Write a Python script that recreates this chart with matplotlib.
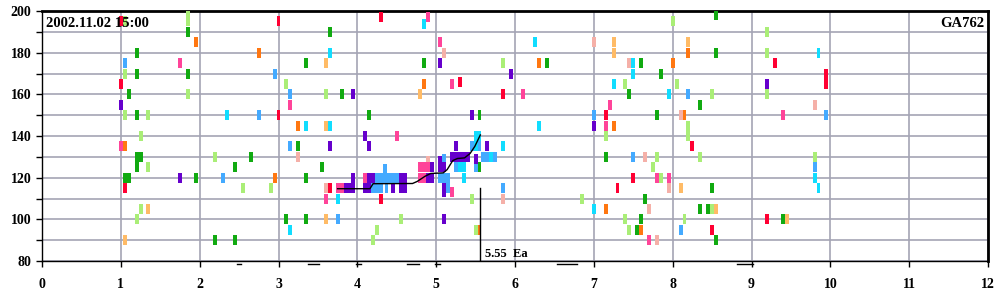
import matplotlib
matplotlib.use('Agg')
import matplotlib.pyplot as plt
import numpy as np

# bars per colour: x position (hours) and level
red_x = [1.0, 3.0, 4.3, 1.0, 3.0, 1.05, 3.65, 4.3, 5.3, 5.85, 7.15, 8.25, 9.3, 9.95, 9.95, 7.5, 7.3, 9.2, 8.5]
red_y = [195, 195, 197, 165, 150, 115, 115, 110, 166, 160, 150, 135, 175, 170, 165, 120, 115, 100, 95]

green_x = [1.85, 3.65, 1.2, 3.35, 1.2, 1.85, 1.1, 3.8, 1.2, 4.15, 5.55, 3.25, 1.2, 1.25, 2.65, 1.2, 2.45, 3.55,
           1.05, 1.1, 1.95, 3.35, 3.1, 3.35, 2.2, 2.45, 4.85, 6.4, 7.6, 7.85, 7.45, 7.8, 8.55, 8.55, 8.35, 8.5,
           8.35, 8.45, 9.4, 8.55, 7.15, 7.65, 7.6, 7.55, 5.55]
green_y = [190, 190, 180, 175, 170, 170, 160, 160, 150, 150, 150, 135, 130, 130, 130, 125, 125, 125,
           120, 120, 120, 120, 100, 100, 90, 90, 175, 175, 175, 170, 160, 150, 198, 180, 155, 115,
           105, 105, 100, 90, 130, 110, 100, 95, 125]

lgreen_x = [1.05, 1.85, 1.85, 1.05, 3.1, 1.85, 3.6, 1.05, 1.35, 1.25, 1.35, 2.2, 2.55, 2.9, 1.2, 1.25, 5.85,
            7.4, 7.15, 8.0, 9.2, 9.2, 8.05, 8.5, 9.2, 8.2, 8.2, 8.35, 9.8, 7.8, 7.75, 7.85, 6.85, 7.4, 7.45,
            5.45, 5.5, 4.55, 4.25, 4.2, 8.15, 8.5]
lgreen_y = [195, 200, 195, 170, 165, 160, 160, 150, 150, 140, 125, 130, 115, 115, 100, 105, 175,
            165, 140, 195, 190, 180, 165, 160, 160, 145, 140, 130, 130, 130, 125, 120, 110, 100, 95,
            110, 95, 100, 95, 90, 100, 105]

orange_x = [1.95, 2.75, 3.25, 1.05, 2.95, 4.85, 6.3, 7.25, 8.2, 8.0, 8.15, 7.15, 7.6, 5.55]
orange_y = [185, 180, 145, 135, 120, 165, 175, 145, 180, 175, 150, 105, 95, 95]

peach_x = [3.6, 3.6, 1.35, 3.6, 1.05, 4.8, 7.25, 7.25, 8.2, 8.1, 8.55, 9.45]
peach_y = [175, 145, 105, 100, 90, 160, 185, 180, 185, 115, 105, 100]

pink_x = [1.75, 3.15, 1.0, 4.5, 5.05, 4.9, 5.2, 6.1, 7.2, 7.15, 9.4, 7.95, 7.8, 3.6, 3.75, 3.8, 4.1,
          4.8, 4.85, 4.9, 4.8, 4.85, 7.7, 5.2]
pink_y = [175, 155, 135, 140, 185, 197, 165, 160, 155, 145, 150, 120, 120, 110, 115, 115, 120,
          125, 125, 125, 120, 120, 90, 113]

salmon_x = [5.1, 7.0, 7.45, 3.25, 3.6, 8.1, 9.8, 7.95, 7.65, 7.7, 7.8, 5.85, 4.9]
salmon_y = [180, 185, 175, 130, 115, 150, 155, 115, 130, 105, 90, 110, 128]

blue_x = [1.05, 2.95, 3.15, 2.75, 3.15, 2.3, 3.75, 7.0, 8.2, 9.95, 9.8, 8.1, 7.5, 5.85, 4.35,
          4.25, 4.3, 4.35, 4.4, 4.45, 4.5, 4.2, 4.25, 4.3, 4.37, 5.45, 5.55, 5.1, 5.6, 5.65, 5.75,
          5.25, 5.5, 5.05, 5.1, 5.15, 5.15]
blue_y = [175, 170, 160, 150, 135, 120, 100, 150, 160, 150, 125, 95, 130, 115, 124,
          120, 120, 120, 120, 120, 120, 115, 115, 115, 115, 135, 135, 129, 130, 130, 130,
          125, 125, 120, 120, 120, 115]

cyan_x = [3.65, 2.35, 3.35, 3.65, 3.15, 4.85, 6.25, 7.5, 7.5, 7.25, 7.95, 6.3, 5.5, 5.55, 5.85, 9.85,
          9.8, 9.85, 7.0, 3.75, 5.5, 5.7, 5.3, 5.35, 5.35]
cyan_y = [180, 150, 145, 145, 95, 194, 185, 175, 170, 165, 160, 145, 140, 140, 135, 180,
          120, 115, 105, 110, 135, 130, 125, 125, 120]

purple_x = [1.0, 3.65, 3.95, 5.05, 5.95, 5.45, 7.0, 4.1, 4.15, 5.25, 5.65, 1.75, 9.2, 5.1, 5.1,
            3.85, 3.9, 3.95, 3.95, 4.15, 4.2, 4.55, 4.6, 4.1, 4.15, 4.45, 4.55, 4.6, 5.05, 5.2, 5.25,
            5.3, 5.35, 5.4, 5.5, 4.95, 5.05, 5.1, 4.9, 4.95, 5.1]
purple_y = [155, 135, 160, 175, 170, 150, 145, 140, 135, 135, 135, 120, 165, 100, 115,
            115, 115, 115, 120, 120, 120, 120, 120, 115, 115, 115, 115, 115, 128, 130, 130,
            130, 130, 130, 129, 125, 125, 125, 120, 120, 113]

# trend line
line_x = [3.75, 4.16, 4.2, 4.7, 4.76, 4.86, 4.93, 5.09, 5.14, 5.21, 5.27, 5.36, 5.43, 5.49, 5.56]
line_y = [114.7, 114.7, 117.1, 117.2, 118.2, 120.7, 122.0, 122.3, 123.9, 128.2, 129.2, 129.5, 131.6, 135.0, 140.5]

marker_x = 5.55
marker_top = 115
marker_label = '5.55  Ea'

# little dashes under the axis
dash_start = [2.47, 3.37, 3.98, 4.63, 4.98, 6.53, 8.82]
dash_end = [2.52, 3.52, 4.05, 4.78, 5.05, 6.79, 9.02]

groups = [
    (red_x, red_y, '#ff0033'),
    (green_x, green_y, '#11aa11'),
    (lgreen_x, lgreen_y, '#aaee77'),
    (orange_x, orange_y, '#ff7711'),
    (peach_x, peach_y, '#ffbb66'),
    (salmon_x, salmon_y, '#f5b0a8'),
    (pink_x, pink_y, '#ff4499'),
    (blue_x, blue_y, '#44aaff'),
    (cyan_x, cyan_y, '#11ddff'),
    (purple_x, purple_y, '#6600cc'),
]

plt.rcParams['font.family'] = ['Liberation Serif', 'DejaVu Serif']
plt.rcParams['font.weight'] = 'bold'

fig = plt.figure(figsize=(10, 3), dpi=100)
ax = fig.add_axes([0.042, 0.13, 0.946, 0.8333])

bar_w = 0.05
bar_h = 4.8
for xs, ys, col in groups:
    ys = np.array(ys, dtype=float)
    ax.bar(xs, bar_h, width=bar_w, bottom=ys - bar_h / 2, color=col, linewidth=0, zorder=3)

ax.plot(line_x, line_y, color='black', lw=1, zorder=4)
ax.plot([marker_x, marker_x], [80, marker_top], color='black', lw=1, zorder=4)
ax.text(marker_x + 0.07, 80.6, marker_label, fontsize=9, fontweight='bold', va='bottom', ha='left')

for a, b in zip(dash_start, dash_end):
    ax.plot([a, b], [78.4, 78.4], color='black', lw=1, clip_on=False)

ax.set_xlim(0, 12)
ax.set_ylim(80, 200)
ax.set_xticks(range(0, 13))
ax.set_yticks(range(80, 201, 20))
ax.set_yticks(range(90, 200, 20), minor=True)
ax.grid(True, which='both', color='#a4a4b4', lw=1.2, zorder=1)
ax.set_axisbelow(True)
ax.tick_params(which='both', direction='out', length=4, width=1, labelsize=10)
ax.tick_params(axis='x', pad=8)
for lab in ax.get_xticklabels() + ax.get_yticklabels():
    lab.set_fontweight('bold')

ax.spines['top'].set_linewidth(2)
ax.spines['right'].set_linewidth(2)
ax.spines['left'].set_linewidth(1)
ax.spines['bottom'].set_linewidth(1)

ax.text(0.004, 0.975, '2002.11.02 15:00', transform=ax.transAxes, fontsize=10.5,
        fontweight='bold', va='top', ha='left', zorder=5)
ax.text(0.996, 0.975, 'GA762', transform=ax.transAxes, fontsize=10.5,
        fontweight='bold', va='top', ha='right', zorder=5)

fig.savefig('out.png', dpi=100, facecolor='white')
